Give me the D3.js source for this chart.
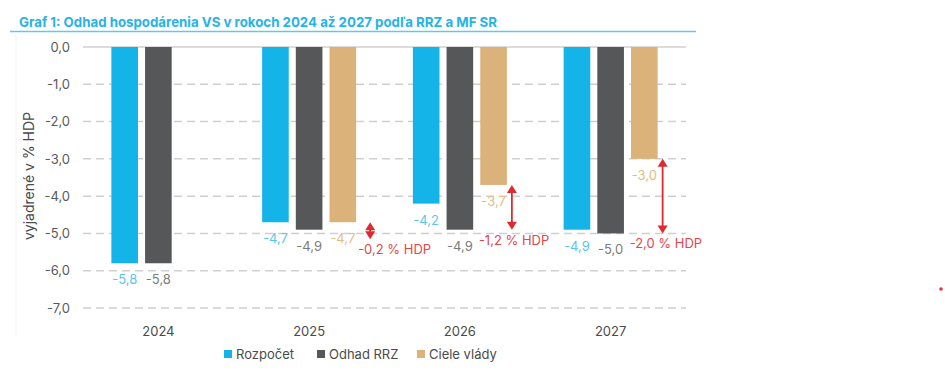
<!DOCTYPE html>
<html><head><meta charset="utf-8">
<script src="https://cdn.jsdelivr.net/npm/d3@7"></script>
<style>
html,body{margin:0;padding:0;background:#fff;}
svg{display:block;font-family:Inter, "Noto Sans", sans-serif;}
</style></head>
<body><svg id="c" width="945" height="377"></svg>
<script>
const title = "Graf 1: Odhad hospodárenia VS v rokoch 2024 až 2027 podľa RRZ a MF SR";
const yAxisTitle = "vyjadrené v % HDP";
const categories = ["2024","2025","2026","2027"];
const seriesNames = ["Rozpočet","Odhad RRZ","Ciele vlády"];
const rozpocet = [-5.8,-4.7,-4.2,-4.9];
const odhadRRZ = [-5.8,-4.9,-4.9,-5.0];
const cieleVlady = [null,-4.7,-3.7,-3.0];
const yTicks = [0,-1,-2,-3,-4,-5,-6,-7];
const gapCategories = ["2025","2026","2027"];
const gapLabels = ["-0,2 % HDP","-1,2 % HDP","-2,0 % HDP"];

const colors = ["#14b4e8","#555759","#dbb27a"];
const labelColors = ["#5ac6ee","#7c7c7c","#e4bc86"];
const red = "#de2a2f";

const svg = d3.select("#c");
const plot = {l:83, r:686, t:47, b:308};

const x = d3.scaleBand().domain(categories).range([plot.l, plot.r]).padding(0);
const y = d3.scaleLinear().domain([0,-7]).range([plot.t, plot.b]);
const sub = d3.scaleBand().domain(seriesNames).range([-47, 47]).paddingInner(0.21);

// title
svg.append("text").attr("x",19).attr("y",27).attr("fill","#27b3e6")
  .attr("font-size",13.6).attr("font-weight",700)
  .attr("textLength",478).attr("lengthAdjust","spacingAndGlyphs").text(title);
svg.append("line").attr("x1",10).attr("x2",696).attr("y1",31.5).attr("y2",31.5)
  .attr("stroke","#5ec9f0").attr("stroke-width",1.6);
// faint frame line
svg.append("line").attr("x1",16).attr("x2",16).attr("y1",35).attr("y2",335)
  .attr("stroke","#f1f1f1").attr("stroke-width",1);

// gridlines
svg.append("g").selectAll("line").data(yTicks).join("line")
  .attr("x1",plot.l).attr("x2",plot.r)
  .attr("y1",d=>y(d)).attr("y2",d=>y(d))
  .attr("stroke",d=>d===0?"#d0d0d0":"#cfcfcf")
  .attr("stroke-width",1.5)
  .attr("stroke-dasharray",d=>d===0?null:"8,5");

// y axis
const yAxis = d3.axisLeft(y).tickValues(yTicks).tickSize(0).tickPadding(0)
  .tickFormat(d=>d3.format(".1f")(d).replace(".",",").replace("−","-"));
const gy = svg.append("g").attr("transform",`translate(70,0)`).call(yAxis);
gy.select(".domain").remove();
gy.selectAll("text").attr("font-size",13).attr("fill","#595959").attr("font-family","Inter, sans-serif");

svg.append("text").attr("transform",`translate(34,176) rotate(-90)`).attr("text-anchor","middle")
  .attr("font-size",14).attr("fill","#4a4a4a").text(yAxisTitle);

// x axis
const xAxis = d3.axisBottom(x).tickSize(0).tickPadding(0);
const gx = svg.append("g").attr("transform",`translate(0,${y(-7)+19})`).call(xAxis);
gx.select(".domain").remove();
gx.selectAll("text").attr("font-size",13).attr("fill","#4a4a4a").attr("font-family","Inter, sans-serif");

// bars
const series = [rozpocet, odhadRRZ, cieleVlady];
const fmt = v => d3.format(".1f")(v).replace(".",",").replace("−","-");
series.forEach((vals,si)=>{
  const data = categories.map((c,i)=>({c, v: vals[i]})).filter(d=>d.v!=null);
  const g = svg.append("g");
  g.selectAll("rect").data(data).join("rect")
    .attr("x",d=>x(d.c)+x.bandwidth()/2+sub(seriesNames[si]))
    .attr("width",sub.bandwidth())
    .attr("y",y(0))
    .attr("height",d=>y(d.v)-y(0))
    .attr("fill",colors[si]);
  g.selectAll("text").data(data).join("text")
    .attr("x",d=>x(d.c)+x.bandwidth()/2+sub(seriesNames[si])+sub.bandwidth()/2)
    .attr("y",d=>y(d.v)+21)
    .attr("text-anchor","middle").attr("font-size",13).attr("fill",labelColors[si])
    .text(d=>fmt(d.v));
});

// gap arrows
const arrowDx = [61,52,52];
const labelDx = [-12,-33,-33];
const minLen = 17;
gapCategories.forEach((c,i)=>{
  const ci = categories.indexOf(c);
  const top = y(cieleVlady[ci]);
  const bot = Math.max(y(odhadRRZ[ci]), top+minLen);
  const ax = x(c)+x.bandwidth()/2+arrowDx[i];
  const hw = 5, hh = 8;
  const g = svg.append("g");
  g.append("line").attr("x1",ax).attr("x2",ax).attr("y1",top+hh-1).attr("y2",bot-hh+1)
    .attr("stroke",red).attr("stroke-width",1.8);
  g.append("path").attr("d",`M${ax},${top} L${ax-hw},${top+hh} L${ax+hw},${top+hh} Z`).attr("fill",red);
  g.append("path").attr("d",`M${ax},${bot} L${ax-hw},${bot-hh} L${ax+hw},${bot-hh} Z`).attr("fill",red);
  g.append("text").attr("x",ax+labelDx[i]).attr("y",bot+15)
    .attr("font-size",13).attr("fill","#e2474b").text(gapLabels[i]);
});

// legend
const legendX = [224,317,417];
const lg = svg.append("g");
seriesNames.forEach((n,i)=>{
  lg.append("rect").attr("x",legendX[i]).attr("y",350).attr("width",8).attr("height",8).attr("fill",colors[i]);
  lg.append("text").attr("x",legendX[i]+12).attr("y",358.5).attr("font-size",13).attr("fill","#4a4a4a").text(n);
});

// stray red dot
svg.append("circle").attr("cx",941).attr("cy",289).attr("r",1.8).attr("fill","#e8353a");
</script></body></html>
